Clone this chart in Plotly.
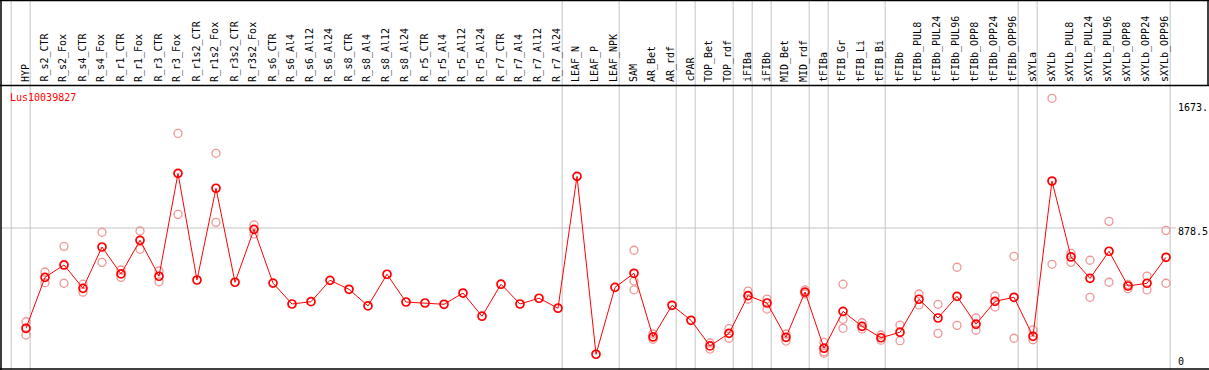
import plotly.graph_objects as go

# ---------------- data ----------------
categories = [
    "HYP", "R_s2_CTR", "R_s2_Fox", "R_s4_CTR", "R_s4_Fox", "R_r1_CTR", "R_r1_Fox",
    "R_r3_CTR", "R_r3_Fox", "R_r1s2_CTR", "R_r1s2_Fox", "R_r3s2_CTR", "R_r3s2_Fox",
    "R_s6_CTR", "R_s6_Al4", "R_s6_Al12", "R_s6_Al24", "R_s8_CTR", "R_s8_Al4",
    "R_s8_Al12", "R_s8_Al24", "R_r5_CTR", "R_r5_Al4", "R_r5_Al12", "R_r5_Al24",
    "R_r7_CTR", "R_r7_Al4", "R_r7_Al12", "R_r7_Al24", "LEAF_N", "LEAF_P", "LEAF_NPK",
    "SAM", "AR_Bet", "AR_rdf", "cPAR", "TOP_Bet", "TOP_rdf", "iFIBa", "iFIBb",
    "MID_Bet", "MID_rdf", "tFIBa", "tFIB_Gr", "tFIB_Li", "tFIB_Bi", "tFIBb",
    "tFIBb_PUL8", "tFIBb_PUL24", "tFIBb_PUL96", "tFIBb_OPP8", "tFIBb_OPP24",
    "tFIBb_OPP96", "sXYLa", "sXYLb", "sXYLb_PUL8", "sXYLb_PUL24", "sXYLb_PUL96",
    "sXYLb_OPP8", "sXYLb_OPP24", "sXYLb_OPP96",
]

mean_values = [
    264, 576, 652, 509, 762, 597, 803, 583, 1213, 560, 1122, 546, 870,
    541, 413, 427, 558, 503, 401, 595, 425, 419, 411, 480, 338,
    534, 413, 448, 387, 1195, 105, 515,
    601, 211, 405, 313, 156, 233, 464, 419, 209, 486, 142, 368, 276, 206, 240,
    442, 327, 460, 289, 429, 454, 215, 1166, 701, 570, 736, 523, 540, 699,
]

N = None
rep1 = [
    304, 609, 766, 534, 852, 621, 860, 615, 1458, N, 1336, N, 897,
    N, N, N, N, N, N, N, N, N, N, N, N,
    N, N, N, N, N, N, N,
    742, 229, N, N, 174, 262, 492, 443, 229, 499, 178, 534, 298, 223, 284,
    474, 411, 638, 327, 462, 705, 254, 1673, 723, 681, 919, 533, 584, 864,
]
rep2 = [
    223, 543, 540, 485, 668, 576, 748, 549, 962, N, 913, N, 842,
    N, N, N, N, N, N, N, N, N, N, N, N,
    N, N, N, N, N, N, N,
    554, 197, N, N, 137, 203, 442, 382, 186, 474, 121, 319, 260, 191, 188,
    407, 233, 282, 252, 394, 203, 194, 656, 668, 454, 546, 507, 499, 540,
]
rep3 = [
    N, N, N, N, N, N, N, N, N, N, N, N, N,
    N, N, N, N, N, N, N, N, N, N, N, N,
    N, N, N, N, N, N, N,
    500, N, N, N, N, N, N, N, N, N, 111, 264, N, N, N,
    N, N, N, N, N, N, N, N, N, N, N, N, N, N,
]

# separators drawn right after these categories (None = before the first one)
group_ends = [None, "HYP", "R_r7_Al24", "LEAF_NPK", "AR_rdf", "cPAR", "TOP_rdf",
              "iFIBa", "iFIBb", "MID_rdf", "tFIBa", "tFIB_Bi", "tFIBb_OPP96",
              "sXYLa", "sXYLb_OPP96"]

gene_name = "Lus10039827"
mid_line_value = 878.5
ytick_labels = ["1673.", "878.5", "0"]

# ---------------- layout constants ----------------
W, H = 1209, 370
X0_PX, X_STEP_PX = 26.0, 19.0          # pixel of first category, spacing
Y0_PX, PX_PER_UNIT = 371.4, 0.16325     # pixel of value 0, pixels per unit
HEADER_PX = 85.5
FONT = "DejaVu Sans Mono"
RED = "#FF0000"
PALE = "rgb(238,150,150)"
GRID = "#C4C4C4"

xs = list(range(len(categories)))
x_range = [-X0_PX / X_STEP_PX, (W - X0_PX) / X_STEP_PX]
y_range = [(Y0_PX - H) / PX_PER_UNIT, Y0_PX / PX_PER_UNIT]


def py(px):  # pixel (from top) -> paper fraction
    return 1 - px / H


def pxx(px):
    return px / W


fig = go.Figure()

for rep in (rep1, rep2, rep3):
    fig.add_trace(go.Scatter(
        x=xs, y=rep, mode="markers", hoverinfo="skip",
        marker=dict(symbol="circle-open", size=8, color=PALE, line=dict(width=1.3)),
    ))

fig.add_trace(go.Scatter(
    x=xs, y=mean_values, mode="lines+markers",
    line=dict(color=RED, width=1),
    marker=dict(symbol="circle-open", size=8, color=RED, line=dict(width=1.7)),
))

shapes = []
# group separators (full height)
for g in group_ends:
    idx = -1 if g is None else categories.index(g)
    shapes.append(dict(type="line", xref="x", yref="paper", x0=idx + 0.22, x1=idx + 0.22,
                       y0=0, y1=1, line=dict(color=GRID, width=1), layer="below"))
# horizontal mid line
shapes.append(dict(type="line", xref="paper", yref="y", x0=0, x1=pxx(1176),
                   y0=mid_line_value, y1=mid_line_value, line=dict(color=GRID, width=1),
                   layer="below"))
# header box and frame
shapes += [
    dict(type="line", xref="paper", yref="paper", x0=0, x1=1, y0=py(HEADER_PX), y1=py(HEADER_PX),
         line=dict(color="black", width=1.5)),
    dict(type="line", xref="paper", yref="paper", x0=0, x1=1, y0=py(0.5), y1=py(0.5),
         line=dict(color="black", width=1.5)),
    dict(type="line", xref="paper", yref="paper", x0=pxx(1.0), x1=pxx(1.0), y0=0, y1=1,
         line=dict(color="black", width=1.5)),
    dict(type="line", xref="paper", yref="paper", x0=pxx(1208), x1=pxx(1208), y0=py(HEADER_PX), y1=1,
         line=dict(color="black", width=1.5)),
    dict(type="line", xref="paper", yref="paper", x0=0, x1=1, y0=py(369), y1=py(369),
         line=dict(color="black", width=1.5)),
]

annotations = []
for i, c in enumerate(categories):
    annotations.append(dict(
        x=i - 0.05, xref="x", y=py(83), yref="paper", text=c, showarrow=False,
        textangle=-90, xanchor="center", yanchor="bottom", borderpad=0,
        font=dict(family=FONT, size=10, color="black"),
    ))
annotations.append(dict(
    x=pxx(9), xref="paper", y=py(98), yref="paper", text=gene_name, showarrow=False,
    xanchor="left", yanchor="middle", borderpad=0,
    font=dict(family=FONT, size=10, color=RED),
))
for lbl, ypx in zip(ytick_labels, [107.5, 231.5, 361.5]):
    annotations.append(dict(
        x=pxx(1177), xref="paper", y=py(ypx), yref="paper", text=lbl, showarrow=False,
        xanchor="left", yanchor="middle", borderpad=0,
        font=dict(family=FONT, size=10, color="black"),
    ))

fig.update_layout(
    width=W, height=H, margin=dict(l=0, r=0, t=0, b=0),
    paper_bgcolor="white", plot_bgcolor="white", showlegend=False,
    xaxis=dict(range=x_range, visible=False, showgrid=False, zeroline=False, fixedrange=True),
    yaxis=dict(range=y_range, visible=False, showgrid=False, zeroline=False, fixedrange=True),
    shapes=shapes, annotations=annotations,
)

fig.write_html(
    "out.html",
    config={"displayModeBar": False},
    post_script="document.body.style.margin='0';document.body.style.overflow='hidden';",
)
